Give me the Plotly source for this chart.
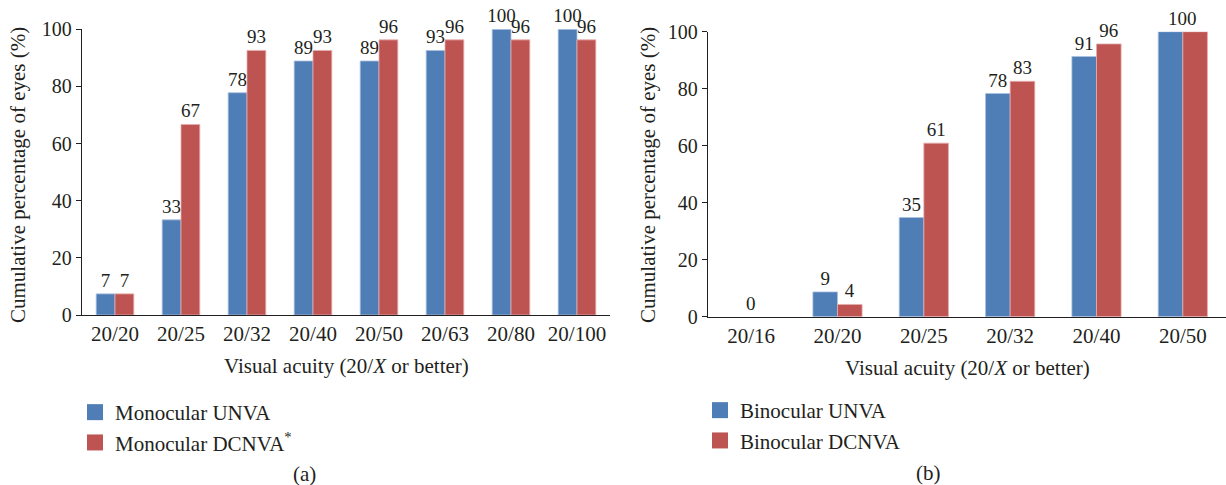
import plotly.graph_objects as go

# ---- data ----
cats_a = ["20/20", "20/25", "20/32", "20/40", "20/50", "20/63", "20/80", "20/100"]
mono_unva = [7.4, 33.3, 77.8, 88.9, 88.9, 92.6, 100, 100]
mono_dcnva = [7.4, 66.7, 92.6, 92.6, 96.3, 96.3, 96.3, 96.3]

cats_b = ["20/16", "20/20", "20/25", "20/32", "20/40", "20/50"]
bino_unva = [0, 8.7, 34.8, 78.3, 91.3, 100]
bino_dcnva = [0, 4.3, 60.9, 82.6, 95.7, 100]

names_a = ["Monocular UNVA", "Monocular DCNVA<sup>*</sup>"]
names_b = ["Binocular UNVA", "Binocular DCNVA"]
y_ticks = [0, 20, 40, 60, 80, 100]

BLUE = "#4F7DB5"
RED = "#BD5452"
BLUE_EDGE = "#A9C1E0"
RED_EDGE = "#E6AEAD"
TXT = "#231F20"
FONT = "Liberation Serif"
W, H = 1226, 485

fig = go.Figure()


def add_panel(cats, s1, s2, names, xa, ya, leg, merge_equal):
    def merged(a, b):
        return (a == 0 and b == 0) or (merge_equal and a == b)

    for vals, other, col, edge, nm in [(s1, s2, BLUE, BLUE_EDGE, names[0]),
                                        (s2, s1, RED, RED_EDGE, names[1])]:
        txt = ["" if merged(v, o) else f"{v:.0f}" for v, o in zip(vals, other)]
        fig.add_trace(go.Bar(
            x=cats, y=vals, xaxis=xa, yaxis=ya,
            marker=dict(color=col, line=dict(color=edge,
                                             width=[0 if v == 0 else 0.8 for v in vals])),
            text=txt, textposition="outside",
            textfont=dict(family=FONT, size=19, color=TXT),
            constraintext="none", cliponaxis=False, showlegend=False,
        ))
        fig.add_trace(go.Scatter(
            x=[None], y=[None], xaxis=xa, yaxis=ya, mode="markers",
            marker=dict(symbol="square", size=16, color=col),
            name=nm, legend=leg, showlegend=True,
        ))
    for c, v1, v2 in zip(cats, s1, s2):
        if merged(v1, v2):
            fig.add_annotation(x=c, y=max(v1, v2), xref=xa, yref=ya, text=f"{v1:.0f}",
                               showarrow=False, yanchor="bottom", yshift=1,
                               font=dict(family=FONT, size=19, color=TXT))


add_panel(cats_a, mono_unva, mono_dcnva, names_a, "x", "y", "legend", False)
add_panel(cats_b, bino_unva, bino_dcnva, names_b, "x2", "y2", "legend2", True)

xcommon = dict(type="category", showline=True, linecolor=TXT, linewidth=1.3,
               ticks="", showgrid=False, zeroline=False, automargin=False,
               tickangle=0,
               tickfont=dict(family=FONT, size=21, color=TXT))
ycommon = dict(range=[0, 100], tickvals=y_ticks, showline=True, linecolor=TXT,
               linewidth=1.3, ticks="outside", ticklen=5, tickcolor=TXT,
               showgrid=False, zeroline=False, automargin=False,
               tickfont=dict(family=FONT, size=20, color=TXT))

leg_common = dict(xanchor="left", yanchor="top",
                  font=dict(family=FONT, size=21, color=TXT),
                  bgcolor="rgba(0,0,0,0)", tracegroupgap=0)

fig.update_layout(
    width=W, height=H, autosize=False,
    margin=dict(l=0, r=0, t=0, b=0, autoexpand=False),
    paper_bgcolor="white", plot_bgcolor="white",
    barmode="group", bargap=0.43, bargroupgap=0,
    xaxis=dict(domain=[82 / W, 610 / W], anchor="y", **xcommon),
    yaxis=dict(domain=[1 - 315 / H, 1 - 29.3 / H], anchor="x", **ycommon),
    xaxis2=dict(domain=[708 / W, 1.0], anchor="y2", **xcommon),
    yaxis2=dict(domain=[1 - 316.7 / H, 1 - 31.7 / H], anchor="x2", **ycommon),
    legend=dict(x=75 / W, y=1 - 392 / H, **leg_common),
    legend2=dict(x=700 / W, y=1 - 390 / H, **leg_common),
    font=dict(family=FONT, color=TXT),
)

ann_font = dict(family=FONT, size=21, color=TXT)
ytitle = "Cumulative percentage of eyes (%)"
xtitle = "Visual acuity (20/<i>X</i> or better)"
for (px, py, txt, ang) in [
    (18, 175, ytitle, -90),
    (648, 175, ytitle, -90),
    (346, 366, xtitle, 0),
    (967, 368, xtitle, 0),
    (304, 474, "(a)", 0),
    (928, 473, "(b)", 0),
]:
    fig.add_annotation(x=px / W, y=1 - py / H, xref="paper", yref="paper",
                       text=txt, textangle=ang, showarrow=False,
                       xanchor="center", yanchor="middle", font=ann_font)

fig.write_html(
    "out.html",
    config={"displayModeBar": False},
    post_script="document.body.style.margin='0';document.body.style.overflow='hidden';",
)
